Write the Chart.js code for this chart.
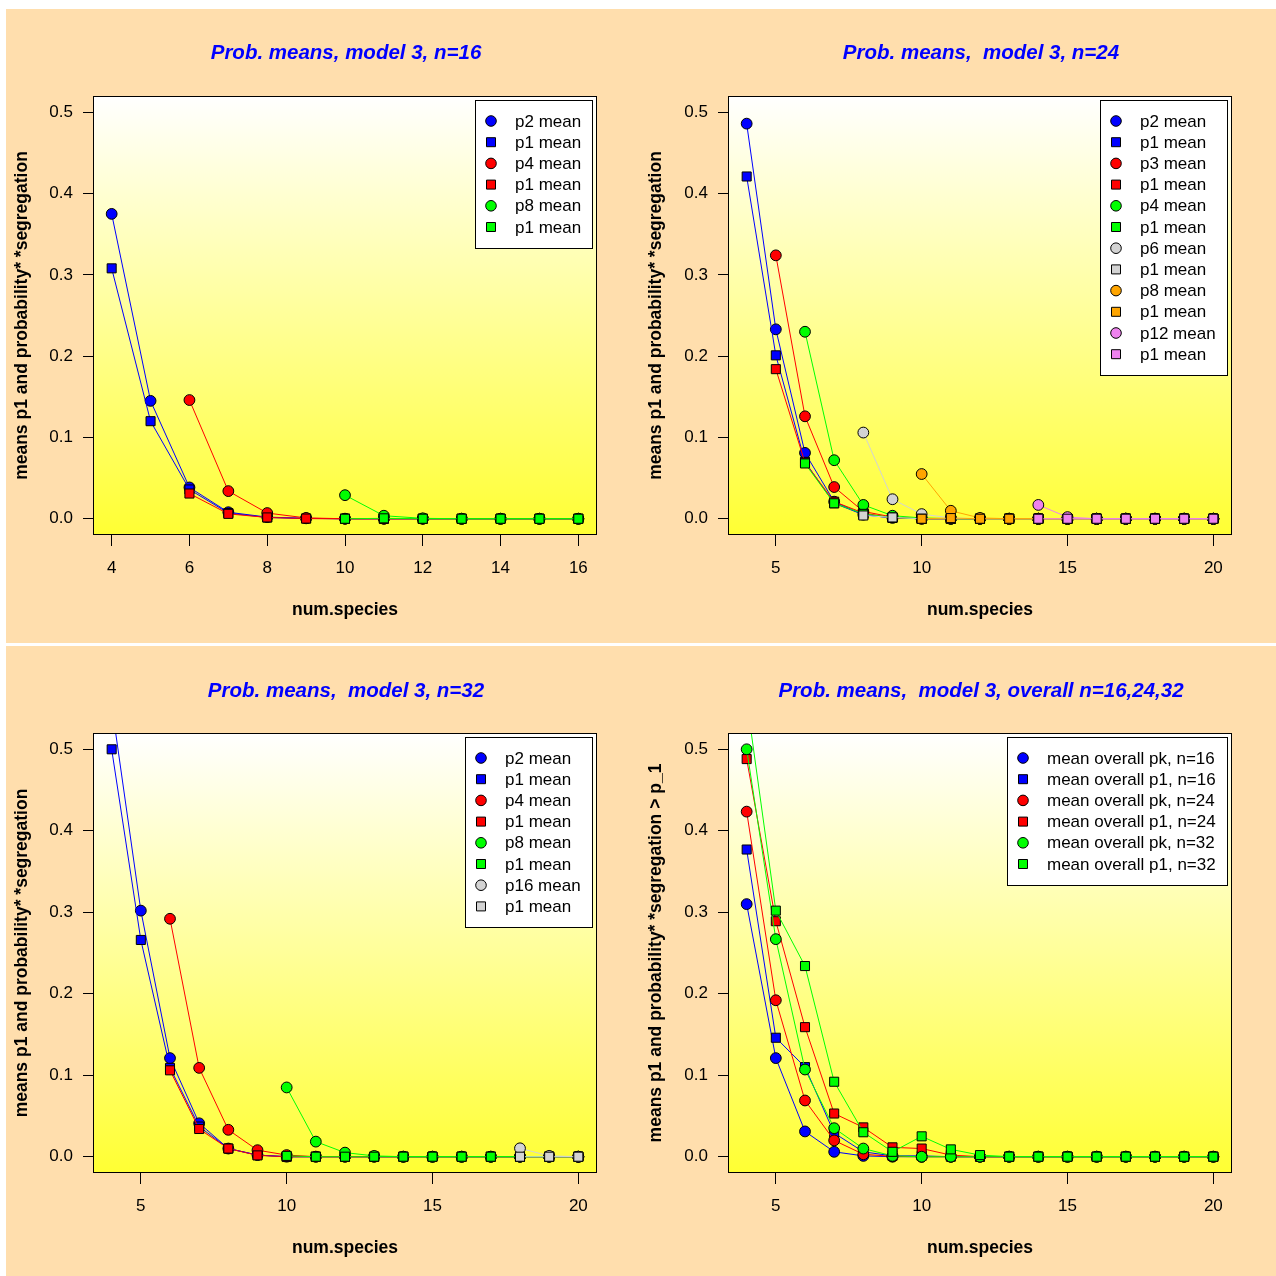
<!DOCTYPE html>
<html><head><meta charset="utf-8">
<script src="https://cdn.jsdelivr.net/npm/chart.js@4.4.0/dist/chart.umd.min.js"></script>
<style>
html,body{margin:0;padding:0;background:#fff;width:1276px;height:1276px;overflow:hidden;}
.band{position:absolute;background:#FFDEAD;}
canvas{position:absolute;}
</style></head><body>
<div class="band" style="left:6px;top:9px;width:1270px;height:634px"></div>
<div class="band" style="left:6px;top:646px;width:1270px;height:630px"></div>
<canvas id="c1" width="634" height="634" style="left:6px;top:9px"></canvas>
<canvas id="c2" width="636" height="634" style="left:640px;top:9px"></canvas>
<canvas id="c3" width="634" height="630" style="left:6px;top:646px"></canvas>
<canvas id="c4" width="636" height="630" style="left:640px;top:646px"></canvas>
<script>
// ---------- categories (num.species) ----------
const species16 = [4,5,6,7,8,9,10,11,12,13,14,15,16];
const species24 = [4,5,6,7,8,9,10,11,12,13,14,15,16,17,18,19,20];
const species32 = [4,5,6,7,8,9,10,11,12,13,14,15,16,17,18,19,20];
const speciesAll = [4,5,6,7,8,9,10,11,12,13,14,15,16,17,18,19,20];

// ---------- tick labels ----------
const yTicks = [0, 0.1, 0.2, 0.3, 0.4, 0.5];
const xTicks16 = [4, 6, 8, 10, 12, 14, 16];
const xTicks20 = [5, 10, 15, 20];

// ---------- panel 1: n=16 ----------
const n16_p2  = [0.375,0.145,0.0385,0.008,0.002,0.0005,0,0,0,0,0,0,0];
const n16_p1a = [0.308,0.120,0.036,0.007,0.0015,0.0003,0,0,0,0,0,0,0];
const n16_p4  = [null,null,0.146,0.034,0.007,0.001,0,0,0,0,0,0,0];
const n16_p1b = [null,null,0.031,0.006,0.0016,0.0002,0,0,0,0,0,0,0];
const n16_p8  = [null,null,null,null,null,null,0.029,0.0037,0.0005,0,0,0,0];
const n16_p1c = [null,null,null,null,null,null,0,0.0005,0,0,0,0,0];

// ---------- panel 2: n=24 ----------
const n24_p2  = [0.486,0.233,0.081,0.021,0.005,0.001,0,0,0,0,0,0,0,0,0,0,0];
const n24_p1a = [0.421,0.201,0.070,0.019,0.005,0.001,0,0,0,0,0,0,0,0,0,0,0];
const n24_p3  = [null,0.324,0.126,0.039,0.009,0.002,0,0,0,0,0,0,0,0,0,0,0];
const n24_p1b = [null,0.184,0.069,0.021,0.007,0.001,0,0,0,0,0,0,0,0,0,0,0];
const n24_p4  = [null,null,0.230,0.072,0.017,0.0037,0.001,0,0,0,0,0,0,0,0,0,0];
const n24_p1c = [null,null,0.068,0.019,0.006,0.0015,0,0,0,0,0,0,0,0,0,0,0];
const n24_p6  = [null,null,null,null,0.106,0.024,0.0057,0.001,0,0,0,0,0,0,0,0,0];
const n24_p1d = [null,null,null,null,0.004,0.0016,0,0,0,0,0,0,0,0,0,0,0];
const n24_p8  = [null,null,null,null,null,null,0.055,0.0098,0.001,0,0,0,0,0,0,0,0];
const n24_p1e = [null,null,null,null,null,null,0,0.0008,0,0,0,0,0,0,0,0,0];
const n24_p12 = [null,null,null,null,null,null,null,null,null,null,0.017,0.002,0,0,0,0,0];
const n24_p1f = [null,null,null,null,null,null,null,null,null,null,0,0,0,0,0,0,0];

// ---------- panel 3: n=32 ----------
const n32_p2  = [0.555,0.302,0.121,0.041,0.010,0.002,0,0,0,0,0,0,0,0,0,0,0];
const n32_p1a = [0.500,0.266,0.109,0.037,0.010,0.002,0,0,0,0,0,0,0,0,0,0,0];
const n32_p4  = [null,null,0.292,0.109,0.033,0.008,0.002,0,0,0,0,0,0,0,0,0,0];
const n32_p1b = [null,null,0.106,0.034,0.010,0.0016,0,0,0,0,0,0,0,0,0,0,0];
const n32_p8  = [null,null,null,null,null,null,0.085,0.0185,0.005,0.001,0,0,0,0,0,0,0];
const n32_p1c = [null,null,null,null,null,null,0.001,0,0,0,0,0,0,0,0,0,0];
const n32_p16 = [null,null,null,null,null,null,null,null,null,null,null,null,null,null,0.0103,0.001,0];
const n32_p1d = [null,null,null,null,null,null,null,null,null,null,null,null,null,null,0,0,0];

// ---------- panel 4: overall ----------
const all_pk16 = [0.310,0.121,0.031,0.006,0.001,0,0,0,0,0,0,0,0,0,0,0,0];
const all_p1_16 = [0.377,0.146,0.110,0.029,0.006,0.001,0.001,0,0,0,0,0,0,0,0,0,0];
const all_pk24 = [0.4235,0.192,0.069,0.020,0.003,0.0004,0,0,0,0,0,0,0,0,0,0,0];
const all_p1_24 = [0.488,0.289,0.159,0.053,0.036,0.0115,0.010,0.002,0,0,0,0,0,0,0,0,0];
const all_pk32 = [0.500,0.267,0.107,0.035,0.010,0.001,0,0,0,0,0,0,0,0,0,0,0];
const all_p1_32 = [0.561,0.302,0.234,0.092,0.030,0.006,0.025,0.009,0.002,0,0,0,0,0,0,0,0];

// ---------- styling ----------
const FONT = '"Liberation Sans", Arial, Helvetica, sans-serif';
const BLUE = '#0000FF', RED = '#FF0000', GREEN = '#00FF00', GREY = '#D3D3D3', ORANGE = '#FFA500', PINK = '#EE82EE';

const panelPlugin = {
  id: 'panel',
  beforeDraw(chart) {
    const {ctx, chartArea: a} = chart;
    const g = ctx.createLinearGradient(0, a.top, 0, a.bottom);
    g.addColorStop(0, '#FFFFFF');
    g.addColorStop(1, '#FFFF33');
    ctx.save();
    ctx.fillStyle = g;
    ctx.fillRect(a.left, a.top, a.right - a.left, a.bottom - a.top);
    ctx.restore();
  },
  afterDatasetsDraw(chart) {
    const {ctx, chartArea: a} = chart;
    ctx.save();
    ctx.strokeStyle = '#000';
    ctx.lineWidth = 1;
    ctx.strokeRect(Math.round(a.left) + 0.5, Math.round(a.top) + 0.5,
                   Math.round(a.right - a.left) - 1, Math.round(a.bottom - a.top) - 1);
    ctx.restore();
  },
  afterDraw(chart, args, opts) {
    const {ctx, chartArea: a} = chart;
    ctx.save();
    ctx.font = 'italic bold 20.5px ' + FONT;
    ctx.fillStyle = '#0000FF';
    ctx.textAlign = 'center';
    ctx.textBaseline = 'middle';
    ctx.fillText(opts.title, (a.left + a.right) / 2 + 1, opts.titleY + 1);
    // legend
    ctx.font = '17px ' + FONT;
    const ds = chart.data.datasets;
    const maxW = Math.max(...ds.map(d => ctx.measureText(d.label).width));
    const rowH = 21.2;
    const bw = Math.round(40 + maxW + 11);
    const bh = Math.round(42 + (ds.length - 1) * rowH);
    const bx = Math.round(a.right - 5 - bw);
    const by = Math.round(a.top + 4);
    ctx.fillStyle = '#FFFFFF';
    ctx.fillRect(bx, by, bw, bh);
    ctx.strokeStyle = '#000';
    ctx.lineWidth = 1;
    ctx.strokeRect(bx + 0.5, by + 0.5, bw, bh);
    ds.forEach((d, i) => {
      const y = by + 21 + i * rowH;
      const x = bx + 16;
      ctx.fillStyle = d.pointBackgroundColor;
      ctx.strokeStyle = '#000';
      ctx.lineWidth = 1;
      ctx.beginPath();
      if (d.pointStyle === 'circle') {
        ctx.arc(x, y, 5.3, 0, Math.PI * 2);
      } else {
        ctx.rect(x - 4.5, y - 4.5, 9, 9);
      }
      ctx.fill();
      ctx.stroke();
      ctx.fillStyle = '#000';
      ctx.textAlign = 'left';
      ctx.textBaseline = 'middle';
      ctx.fillText(d.label, bx + 40, y + 1);
    });
    ctx.restore();
  }
};

function makeChart(id, cfg) {
  const canvas = document.getElementById(id);
  const W = canvas.width, H = canvas.height;
  const A = cfg.area;
  const datasets = cfg.series.map((s, i) => ({
    label: s.label,
    data: cfg.x.map((x, j) => ({x: x, y: s.values[j]})).filter(p => p.y !== null),
    borderColor: s.color,
    backgroundColor: s.color,
    borderWidth: 1,
    pointStyle: s.shape,
    pointRadius: s.shape === 'circle' ? 5.4 : 6.4,
    pointHoverRadius: s.shape === 'circle' ? 5.4 : 6.4,
    pointBorderColor: '#000',
    pointBorderWidth: 1,
    pointBackgroundColor: s.color,
    tension: 0,
    fill: false,
    order: -i
  }));
  return new Chart(canvas, {
    type: 'line',
    data: {datasets},
    plugins: [panelPlugin],
    options: {
      responsive: false,
      animation: false,
      devicePixelRatio: 1,
      events: [],
      layout: {padding: {top: A.top, right: W - A.right, bottom: 0, left: 0}},
      plugins: {
        legend: {display: false},
        tooltip: {enabled: false},
        title: {display: false},
        panel: {title: cfg.title, titleY: cfg.titleY}
      },
      scales: {
        x: {
          type: 'linear',
          min: cfg.xmin, max: cfg.xmax,
          afterBuildTicks: s => { s.ticks = cfg.xTicks.map(v => ({value: v})); },
          afterFit: s => { s.height = H - A.bottom; },
          grid: {drawOnChartArea: false, drawTicks: true, tickLength: 11, color: '#000', lineWidth: 1},
          border: {display: false},
          ticks: {padding: 12, color: '#000', font: {family: FONT, size: 17}, maxRotation: 0, autoSkip: false,
                  callback: v => String(v)},
          title: {display: true, text: 'num.species', color: '#000',
                  font: {family: FONT, size: 17.5, weight: 'bold'},
                  padding: {top: 0, bottom: H - cfg.xTitleY - 10.5}}
        },
        y: {
          type: 'linear',
          min: -0.02, max: 0.52,
          afterBuildTicks: s => { s.ticks = yTicks.map(v => ({value: v})); },
          afterFit: s => { s.width = A.left; },
          grid: {drawOnChartArea: false, drawTicks: true, tickLength: 10, color: '#000', lineWidth: 1},
          border: {display: false},
          ticks: {padding: 10, color: '#000', font: {family: FONT, size: 17},
                  callback: v => Number(v).toFixed(1)},
          title: {display: true, text: cfg.yTitle, color: '#000',
                  font: {family: FONT, size: 17.5, weight: 'bold'},
                  padding: {top: 16 - 10.5, bottom: 0}}
        }
      }
    }
  });
}

const YLAB = 'means p1 and probability* *segregation';

makeChart('c1', {
  area: {left: 87, right: 591, top: 87, bottom: 526},
  title: 'Prob. means, model 3, n=16', titleY: 43, xTitleY: 601,
  xmin: 3.52, xmax: 16.48, xTicks: xTicks16, yTitle: YLAB,
  x: species16,
  series: [
    {label: 'p2 mean', values: n16_p2, color: BLUE, shape: 'circle'},
    {label: 'p1 mean', values: n16_p1a, color: BLUE, shape: 'rect'},
    {label: 'p4 mean', values: n16_p4, color: RED, shape: 'circle'},
    {label: 'p1 mean', values: n16_p1b, color: RED, shape: 'rect'},
    {label: 'p8 mean', values: n16_p8, color: GREEN, shape: 'circle'},
    {label: 'p1 mean', values: n16_p1c, color: GREEN, shape: 'rect'}
  ]
});

makeChart('c2', {
  area: {left: 88, right: 592, top: 87, bottom: 526},
  title: 'Prob. means,  model 3, n=24', titleY: 43, xTitleY: 601,
  xmin: 3.36, xmax: 20.64, xTicks: xTicks20, yTitle: YLAB,
  x: species24,
  series: [
    {label: 'p2 mean', values: n24_p2, color: BLUE, shape: 'circle'},
    {label: 'p1 mean', values: n24_p1a, color: BLUE, shape: 'rect'},
    {label: 'p3 mean', values: n24_p3, color: RED, shape: 'circle'},
    {label: 'p1 mean', values: n24_p1b, color: RED, shape: 'rect'},
    {label: 'p4 mean', values: n24_p4, color: GREEN, shape: 'circle'},
    {label: 'p1 mean', values: n24_p1c, color: GREEN, shape: 'rect'},
    {label: 'p6 mean', values: n24_p6, color: GREY, shape: 'circle'},
    {label: 'p1 mean', values: n24_p1d, color: GREY, shape: 'rect'},
    {label: 'p8 mean', values: n24_p8, color: ORANGE, shape: 'circle'},
    {label: 'p1 mean', values: n24_p1e, color: ORANGE, shape: 'rect'},
    {label: 'p12 mean', values: n24_p12, color: PINK, shape: 'circle'},
    {label: 'p1 mean', values: n24_p1f, color: PINK, shape: 'rect'}
  ]
});

makeChart('c3', {
  area: {left: 87, right: 591, top: 87, bottom: 527},
  title: 'Prob. means,  model 3, n=32', titleY: 44, xTitleY: 602,
  xmin: 3.36, xmax: 20.64, xTicks: xTicks20, yTitle: YLAB,
  x: species32,
  series: [
    {label: 'p2 mean', values: n32_p2, color: BLUE, shape: 'circle'},
    {label: 'p1 mean', values: n32_p1a, color: BLUE, shape: 'rect'},
    {label: 'p4 mean', values: n32_p4, color: RED, shape: 'circle'},
    {label: 'p1 mean', values: n32_p1b, color: RED, shape: 'rect'},
    {label: 'p8 mean', values: n32_p8, color: GREEN, shape: 'circle'},
    {label: 'p1 mean', values: n32_p1c, color: GREEN, shape: 'rect'},
    {label: 'p16 mean', values: n32_p16, color: GREY, shape: 'circle'},
    {label: 'p1 mean', values: n32_p1d, color: GREY, shape: 'rect'}
  ]
});

makeChart('c4', {
  area: {left: 88, right: 592, top: 87, bottom: 527},
  title: 'Prob. means,  model 3, overall n=16,24,32', titleY: 44, xTitleY: 602,
  xmin: 3.36, xmax: 20.64, xTicks: xTicks20, yTitle: YLAB + ' > p_1',
  x: speciesAll,
  series: [
    {label: 'mean overall pk, n=16', values: all_pk16, color: BLUE, shape: 'circle'},
    {label: 'mean overall p1, n=16', values: all_p1_16, color: BLUE, shape: 'rect'},
    {label: 'mean overall pk, n=24', values: all_pk24, color: RED, shape: 'circle'},
    {label: 'mean overall p1, n=24', values: all_p1_24, color: RED, shape: 'rect'},
    {label: 'mean overall pk, n=32', values: all_pk32, color: GREEN, shape: 'circle'},
    {label: 'mean overall p1, n=32', values: all_p1_32, color: GREEN, shape: 'rect'}
  ]
});
</script>
</body></html>
